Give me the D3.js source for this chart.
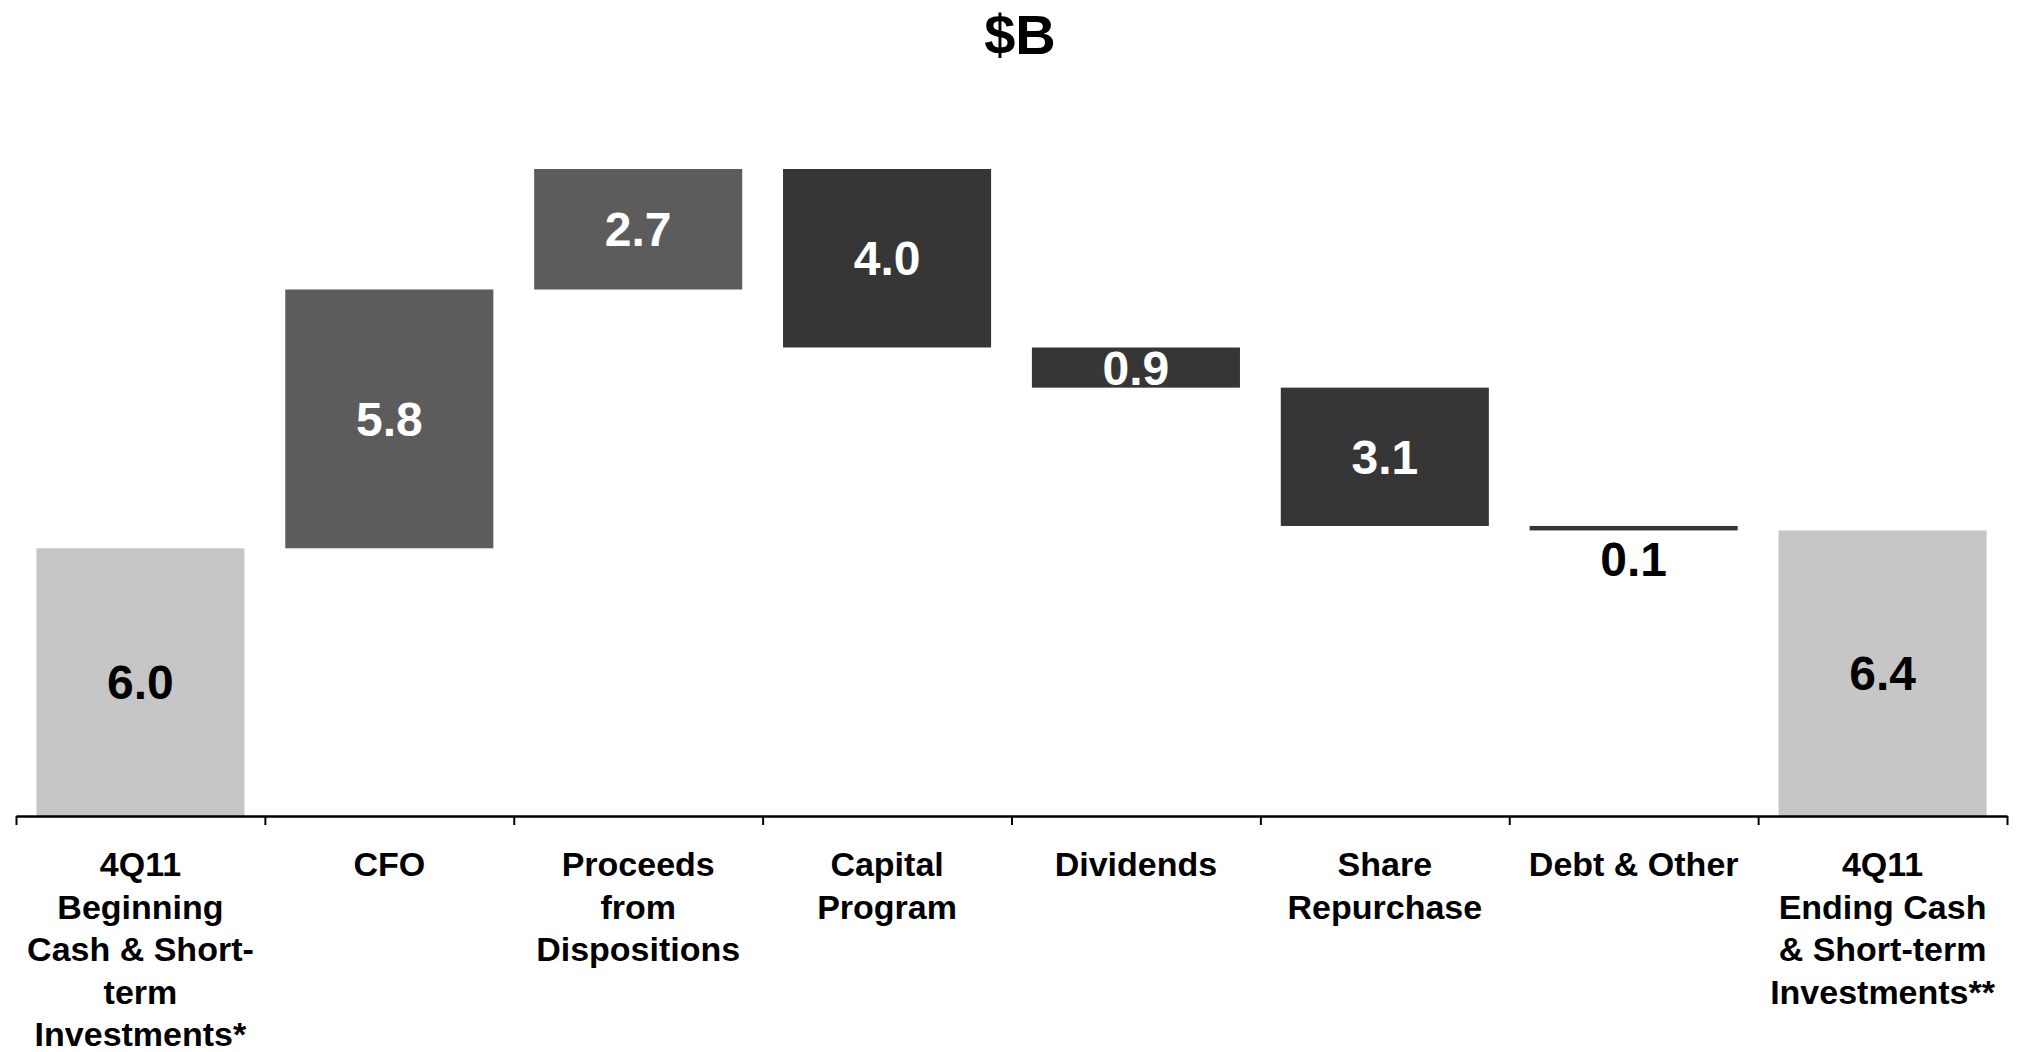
<!DOCTYPE html>
<html>
<head>
<meta charset="utf-8">
<script src="https://cdn.jsdelivr.net/npm/d3@7"></script>
<style>
  html, body { margin: 0; padding: 0; background: #ffffff; }
  svg { display: block; font-family: "Liberation Sans", Arial, sans-serif; }
</style>
</head>
<body>
<script>
// ---- Data ----
const title = "$B";
const categories = [
  "4Q11 Beginning Cash & Short-term Investments*",
  "CFO",
  "Proceeds from Dispositions",
  "Capital Program",
  "Dividends",
  "Share Repurchase",
  "Debt & Other",
  "4Q11 Ending Cash & Short-term Investments**"
];
const categoryLines = [
  ["4Q11", "Beginning", "Cash & Short-", "term", "Investments*"],
  ["CFO"],
  ["Proceeds", "from", "Dispositions"],
  ["Capital", "Program"],
  ["Dividends"],
  ["Share", "Repurchase"],
  ["Debt & Other"],
  ["4Q11", "Ending Cash", "& Short-term", "Investments**"]
];
const values = [6.0, 5.8, 2.7, -4.0, -0.9, -3.1, -0.1, 6.4];
const kinds = ["total", "up", "up", "down", "down", "down", "down", "total"];
const valueLabels = ["6.0", "5.8", "2.7", "4.0", "0.9", "3.1", "0.1", "6.4"];

// ---- Build waterfall segments ----
let running = 0;
const segs = categories.map((c, i) => {
  let lo, hi;
  if (kinds[i] === "total") {
    lo = 0; hi = values[i]; running = values[i];
  } else {
    const next = running + values[i];
    lo = Math.min(running, next); hi = Math.max(running, next);
    running = next;
  }
  return { cat: c, lines: categoryLines[i], kind: kinds[i], lo, hi, label: valueLabels[i] };
});

const W = 2021, H = 1052;
const svg = d3.select("body").append("svg").attr("width", W).attr("height", H);

const xLeft = 16, xRight = 2007, baseY = 816;
const maxVal = d3.max(segs, d => d.hi);

const x = d3.scaleBand().domain(categories).range([xLeft, xRight])
  .paddingInner(0.164).paddingOuter(0.082);
const y = d3.scaleLinear().domain([0, maxVal]).range([baseY, 169]);
const xEdge = d3.scaleLinear().domain([0, categories.length]).range([xLeft, xRight]);

const fillFor = { total: "#c6c6c6", up: "#5c5c5c", down: "#363636" };
const textFor = { total: "#000000", up: "#ffffff", down: "#ffffff" };

// Title
svg.append("text").attr("x", 1020).attr("y", 54)
  .attr("text-anchor", "middle").attr("font-size", 56).attr("font-weight", "bold")
  .attr("fill", "#000").text(title);

// Bars
svg.append("g").selectAll("rect").data(segs).join("rect")
  .attr("x", d => x(d.cat))
  .attr("width", x.bandwidth())
  .attr("y", d => y(d.hi))
  .attr("height", d => Math.max(1, y(d.lo) - y(d.hi)))
  .attr("fill", d => fillFor[d.kind]);

// Value labels
const capH = 48 * 0.716;
svg.append("g").selectAll("text").data(segs).join("text")
  .attr("x", d => x(d.cat) + x.bandwidth() / 2)
  .attr("y", d => {
    const h = y(d.lo) - y(d.hi);
    if (h < 20) return y(d.lo) + 11 + capH;
    return (y(d.lo) + y(d.hi)) / 2 + capH / 2;
  })
  .attr("text-anchor", "middle").attr("font-size", 48).attr("font-weight", "bold")
  .attr("fill", d => (y(d.lo) - y(d.hi) < 20) ? "#000" : textFor[d.kind])
  .text(d => d.label);

// Axis with ticks at category boundaries
const axis = d3.axisBottom(xEdge)
  .tickValues(d3.range(categories.length + 1))
  .tickSize(9).tickSizeOuter(0).tickFormat("");
const ax = svg.append("g").attr("transform", `translate(0,${baseY})`).call(axis);
ax.select(".domain").attr("stroke", "#000").attr("stroke-width", 2.5);
ax.selectAll(".tick line").attr("stroke", "#000").attr("stroke-width", 2);

// Category labels
const lbl = svg.append("g");
segs.forEach(d => {
  const t = lbl.append("text")
    .attr("x", x(d.cat) + x.bandwidth() / 2)
    .attr("y", 876)
    .attr("text-anchor", "middle").attr("font-size", 34).attr("font-weight", "bold")
    .attr("fill", "#000");
  d.lines.forEach((ln, j) => {
    t.append("tspan").attr("x", x(d.cat) + x.bandwidth() / 2)
      .attr("dy", j === 0 ? 0 : 42.5).text(ln);
  });
});
</script>
</body>
</html>
